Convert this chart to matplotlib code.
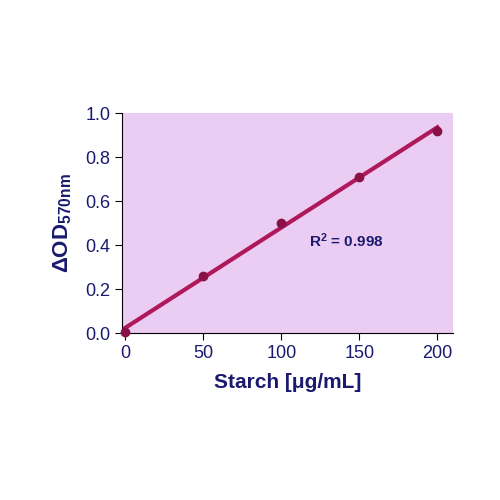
import matplotlib
matplotlib.use("Agg")
import matplotlib.pyplot as plt
import numpy as np

plt.rcParams["font.family"] = ["Liberation Sans", "DejaVu Sans"]
plt.rcParams["mathtext.fontset"] = "custom"
plt.rcParams["mathtext.rm"] = "Liberation Sans"
plt.rcParams["mathtext.bf"] = "Liberation Sans:bold"

x = [0, 50, 100, 150, 200]
y = [0.005, 0.26, 0.50, 0.71, 0.92]
xticks = [0, 50, 100, 150, 200]
yticks = [0.0, 0.2, 0.4, 0.6, 0.8, 1.0]

navy = "#1a1a6e"
line_c = "#b0185c"
fig = plt.figure(figsize=(5, 5), dpi=100)
ax = fig.add_axes([0.244, 0.334, 0.662, 0.44])
ax.set_facecolor("#ebccf2")
m, b = np.polyfit(x, y, 1)
xs = np.array([0, 200])
ax.plot(xs, m * xs + b, color=line_c, lw=3, zorder=2)
ax.plot(x, y, "o", color="#8a1048", ms=6, zorder=3, clip_on=False)
ax.set_xlim(-2, 210)
ax.set_ylim(0, 1.0)
ax.set_xticks(xticks)
ax.set_yticks(yticks)
ax.set_yticklabels([f"{v:.1f}" for v in yticks])
for s in ["top", "right"]:
    ax.spines[s].set_visible(False)
for s in ["left", "bottom"]:
    ax.spines[s].set_color("black")
ax.tick_params(labelsize=13, colors="black", labelcolor=navy, length=5)
ax.set_xlabel("Starch [μg/mL]", fontsize=15, fontweight="bold", color=navy, labelpad=8)
ax.set_ylabel(r"$\mathbf{\Delta OD_{570nm}}$", fontsize=16, color=navy, labelpad=8)
ax.text(118, 0.39, r"$\mathbf{R^2}$ = 0.998", fontsize=11, fontweight="bold", color=navy)
fig.savefig("out.png", dpi=100)
